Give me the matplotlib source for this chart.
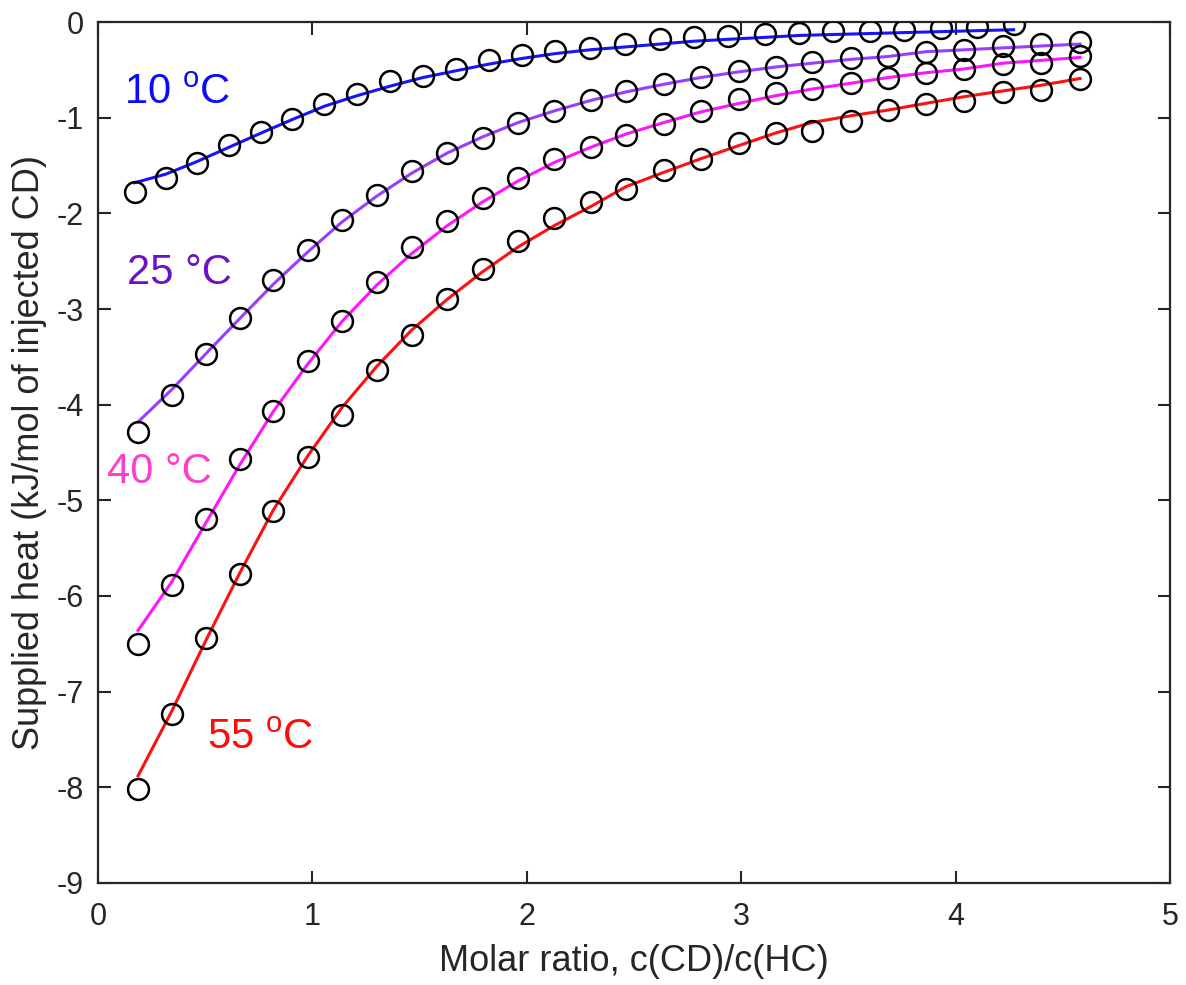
import matplotlib
matplotlib.use("Agg")
import matplotlib.pyplot as plt
import numpy as np

plt.rcParams["font.family"] = ["Liberation Sans", "DejaVu Sans"]
plt.rcParams["mathtext.fontset"] = "custom"
plt.rcParams["mathtext.rm"] = "Liberation Sans"
plt.rcParams["axes.unicode_minus"] = False

# molar ratio for the 10 °C run
x_10 = [0.171, 0.316, 0.460, 0.610, 0.761, 0.905, 1.056, 1.208, 1.362,
        1.515, 1.668, 1.822, 1.978, 2.131, 2.294, 2.460, 2.620, 2.780,
        2.940, 3.110, 3.270, 3.430, 3.600, 3.760, 3.930, 4.100, 4.270]
heat_10 = [-1.78, -1.63, -1.47, -1.29, -1.15, -1.01, -0.86, -0.75, -0.62,
           -0.56, -0.49, -0.40, -0.34, -0.30, -0.27, -0.23, -0.18, -0.16,
           -0.15, -0.12, -0.11, -0.09, -0.09, -0.08, -0.06, -0.05, -0.02]
fit_10 = [-1.68, -1.59, -1.46, -1.31, -1.16, -1.02, -0.88, -0.77, -0.67,
          -0.58, -0.51, -0.44, -0.38, -0.33, -0.29, -0.26, -0.23, -0.20,
          -0.18, -0.16, -0.14, -0.13, -0.12, -0.11, -0.10, -0.09, -0.08]

# molar ratio shared by the 25, 40 and 55 °C runs
x_hot = [0.187, 0.345, 0.502, 0.661, 0.818, 0.980, 1.138, 1.300, 1.463,
         1.628, 1.794, 1.960, 2.126, 2.297, 2.463, 2.640, 2.810, 2.990,
         3.160, 3.330, 3.510, 3.685, 3.860, 4.040, 4.220, 4.400, 4.580]
heat_25 = [-4.29, -3.90, -3.47, -3.09, -2.70, -2.38, -2.07, -1.81, -1.56,
           -1.37, -1.21, -1.05, -0.93, -0.81, -0.72, -0.65, -0.57, -0.51,
           -0.47, -0.42, -0.38, -0.35, -0.31, -0.29, -0.25, -0.23, -0.21]
fit_25 = [-4.18, -3.84, -3.47, -3.10, -2.74, -2.40, -2.09, -1.82, -1.58,
          -1.37, -1.20, -1.05, -0.93, -0.82, -0.73, -0.65, -0.58, -0.52,
          -0.47, -0.43, -0.39, -0.36, -0.31, -0.29, -0.27, -0.25, -0.23]
heat_40 = [-6.50, -5.88, -5.19, -4.57, -4.07, -3.54, -3.13, -2.72, -2.35,
           -2.08, -1.84, -1.63, -1.43, -1.31, -1.18, -1.07, -0.93, -0.80,
           -0.74, -0.70, -0.64, -0.58, -0.53, -0.49, -0.44, -0.43, -0.36]
fit_40 = [-6.36, -5.85, -5.24, -4.63, -4.07, -3.57, -3.13, -2.75, -2.42,
          -2.13, -1.88, -1.66, -1.47, -1.31, -1.17, -1.05, -0.94, -0.85,
          -0.77, -0.70, -0.64, -0.58, -0.53, -0.49, -0.43, -0.40, -0.37]
heat_55 = [-8.02, -7.23, -6.44, -5.77, -5.11, -4.55, -4.11, -3.64, -3.27,
           -2.90, -2.58, -2.29, -2.05, -1.88, -1.74, -1.55, -1.43, -1.26,
           -1.16, -1.14, -1.03, -0.92, -0.86, -0.82, -0.73, -0.71, -0.60]
fit_55 = [-7.88, -7.20, -6.47, -5.76, -5.10, -4.53, -4.03, -3.60, -3.22,
          -2.90, -2.61, -2.35, -2.13, -1.93, -1.72, -1.57, -1.43, -1.29,
          -1.16, -1.05, -0.98, -0.92, -0.85, -0.78, -0.72, -0.66, -0.59]

series = [
    (x_10, heat_10, fit_10, "#1414ff", "#0a0aff", "10 $^\\mathregular{o}$C", (0.12, -0.74)),
    (x_hot, heat_25, fit_25, "#9b3dff", "#6a12c8", "25 °C", (0.135, -2.62)),
    (x_hot, heat_40, fit_40, "#ff14ff", "#ff3ccc", "40 °C", (0.04, -4.70)),
    (x_hot, heat_55, fit_55, "#ff1010", "#ff0a0a", "55 $^\\mathregular{o}$C", (0.51, -7.48)),
]

fig = plt.figure(figsize=(11.86, 9.85), dpi=100)
ax = fig.add_axes([0.0826, 0.1036, 0.904, 0.874])

for xs, data, fit, line_c, text_c, label, pos in series:
    ax.plot(xs, fit, color=line_c, linewidth=2.2, zorder=2)
    ax.plot(xs, data, linestyle="none", marker="o", markersize=15,
            markerfacecolor="none", markeredgecolor="black",
            markeredgewidth=1.8, zorder=3)
    ax.text(pos[0], pos[1], label, color=text_c, fontsize=30,
            ha="left", va="center")

ax.set_xlim(0, 5)
ax.set_ylim(-9, 0)
ax.set_xticks(np.arange(0, 6, 1))
ax.set_yticks(np.arange(-9, 1, 1))
ax.tick_params(direction="in", length=9, width=1.5, top=True, right=True,
               labelsize=22, colors="#262626")
ax.tick_params(axis="x", pad=14)
ax.tick_params(axis="y", pad=10)
for sp in ax.spines.values():
    sp.set_linewidth(1.6)
    sp.set_color("#262626")

ax.set_xlabel("Molar ratio, c(CD)/c(HC)", fontsize=26, color="#262626", labelpad=8)
ax.set_ylabel("Supplied heat (kJ/mol of injected CD)", fontsize=26,
              color="#262626", labelpad=7)

fig.savefig("out.png", dpi=100)
